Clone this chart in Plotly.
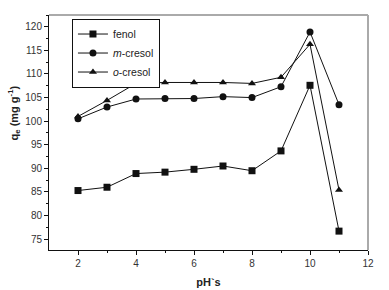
import plotly.graph_objects as go

ph = [2, 3, 4, 5, 6, 7, 8, 9, 10, 11]
fenol = [85.3, 86.0, 88.9, 89.2, 89.8, 90.5, 89.5, 93.7, 107.6, 76.7]
m_cresol = [100.5, 103.0, 104.7, 104.8, 104.8, 105.2, 105.0, 107.3, 118.9, 103.5]
o_cresol = [101.0, 104.4, 108.0, 108.2, 108.2, 108.2, 108.0, 109.3, 116.3, 85.4]

fig = go.Figure()
series = [
    ("fenol", fenol, "square"),
    ("<i>m</i>-cresol", m_cresol, "circle"),
    ("<i>o</i>-cresol", o_cresol, "triangle-up"),
]
for name, vals, sym in series:
    fig.add_trace(go.Scatter(
        x=ph, y=vals, name=name, mode="lines+markers",
        line=dict(color="#111", width=1),
        marker=dict(symbol=sym, size=7, color="#111"),
    ))

font = dict(family="Liberation Sans, Arial, sans-serif", size=10, color="#333")
fig.update_layout(
    width=389, height=290,
    margin=dict(l=49, r=21, t=15, b=40),
    paper_bgcolor="white", plot_bgcolor="white",
    font=font,
    showlegend=True,
    legend=dict(
        x=0.072, y=0.985, xanchor="left", yanchor="top",
        bordercolor="#111", borderwidth=1, bgcolor="white",
        font=dict(family="Liberation Sans, Arial, sans-serif", size=10.5, color="#222"),
        tracegroupgap=0, itemwidth=30,
    ),
    xaxis=dict(
        range=[1, 12], tickvals=[2, 4, 6, 8, 10, 12], automargin=False,
        showgrid=False, zeroline=False,
        showline=True, linecolor="#111", linewidth=1,
        ticks="outside", ticklen=4, tickcolor="#111",
        minor=dict(ticks="outside", tickvals=[3, 5, 7, 9, 11], ticklen=2, tickcolor="#111"),
        title=dict(text="<b>pH`s</b>", font=dict(size=11, color="#222"), standoff=10),
    ),
    yaxis=dict(
        range=[72.7, 122.5], tickvals=[75, 80, 85, 90, 95, 100, 105, 110, 115, 120], automargin=False,
        showgrid=False, zeroline=False,
        showline=True, linecolor="#111", linewidth=1,
        ticks="outside", ticklen=4, tickcolor="#111",
        minor=dict(ticks="outside", dtick=2.5, ticklen=2, tickcolor="#111"),
    ),
)
fig.add_annotation(
    text="<b>q<sub>e</sub> (mg g<sup>-1</sup>)</b>", textangle=-90,
    xref="paper", yref="paper", x=-0.11, y=0.585, xanchor="center", yanchor="middle",
    showarrow=False, font=dict(family="Liberation Sans, Arial, sans-serif", size=11, color="#222"),
)
# top and right frame lines in gray
fig.add_shape(type="line", xref="paper", yref="paper", x0=0, x1=1, y0=1, y1=1,
              line=dict(color="#aaa", width=2))
fig.add_shape(type="line", xref="paper", yref="paper", x0=1, x1=1, y0=0, y1=1,
              line=dict(color="#aaa", width=2))

fig.write_html("out.html", config={"displayModeBar": False},
               post_script="document.body.style.margin='0';document.body.style.padding='0';")
